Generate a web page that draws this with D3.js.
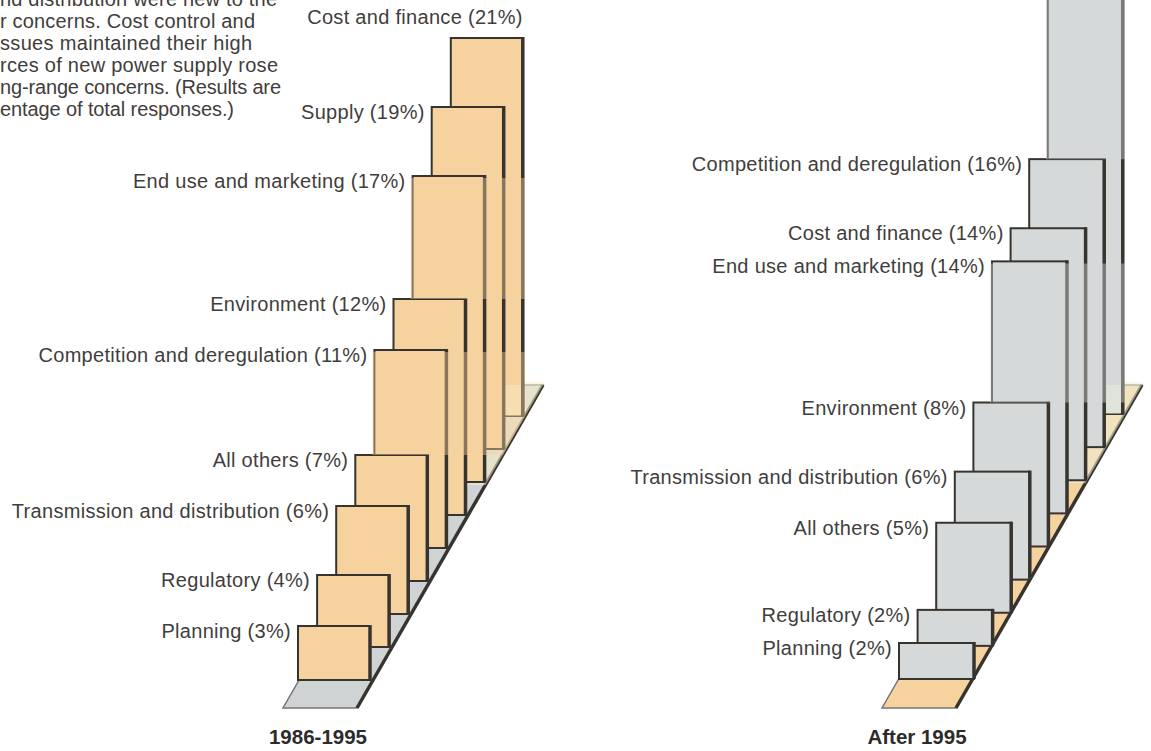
<!DOCTYPE html>
<html>
<head>
<meta charset="utf-8">
<title>Utility concerns</title>
<script src="https://d3js.org/d3.v7.min.js"></script>
<style>
  html, body { margin: 0; padding: 0; background: #fff; }
  svg { display: block; }
  text { font-family: "Liberation Sans", sans-serif; fill: #3f3e3c; }
  .label { font-size: 20px; letter-spacing: 0.3px; }
  .note { font-size: 20px; }
  .period { font-size: 20.5px; font-weight: bold; fill: #2c2b2a; }
</style>
</head>
<body>
<div id="chart"></div>
<script>
'use strict';

// front-to-back order of the bars in each stack
const categoriesEarly = ['Planning', 'Regulatory', 'Transmission and distribution', 'All others',
  'Competition and deregulation', 'Environment', 'End use and marketing', 'Supply', 'Cost and finance'];
const valuesEarly = [3, 4, 6, 7, 11, 12, 17, 19, 21];

const categoriesLate = ['Planning', 'Regulatory', 'All others', 'Transmission and distribution',
  'Environment', 'End use and marketing', 'Cost and finance', 'Competition and deregulation', 'Supply'];
const valuesLate = [2, 2, 5, 6, 8, 14, 14, 16, 33];

const noteLines = ['nd distribution were new to the', 'r concerns. Cost control and',
  'ssues maintained their high', 'rces of new power supply rose',
  'ng-range concerns. (Results are', 'entage of total responses.)'];

const width = 1151, height = 751;
const ink = '#37342f';

const svg = d3.select('#chart').append('svg').attr('width', width).attr('height', height);

// each line of the paragraph is fitted to its own measure
const noteWidths = [277, 255, 252, 278, 281, 234];
const noteY = d3.scaleLinear().domain([0, 5]).range([-1.5, 108.5]);
svg.selectAll('.note').data(noteLines).enter().append('text')
  .attr('class', 'note')
  .attr('x', 0)
  .attr('y', (d, i) => noteY(i))
  .attr('dy', '0.35em')
  .attr('textLength', (d, i) => noteWidths[i])
  .text(d => d);

drawStack({
  categories: categoriesEarly, values: valuesEarly, period: '1986-1995',
  frontX: 298, barStep: 19.1, barWidth: 72, pxPerUnit: 18, baseRange: [680, 416],
  barFill: '#f6d29f', floorFill: '#cfd3d4',
  floorX: 283, periodX: 318,
  fades: [[6, 5], [4, 3]], floorFade: '#f7eec6'
});

drawStack({
  categories: categoriesLate, values: valuesLate, period: 'After 1995',
  frontX: 899, barStep: 18.6, barWidth: 75, pxPerUnit: 18, baseRange: [679, 414],
  barFill: '#d6d9d9', floorFill: '#f6d29f',
  floorX: 882, periodX: 917,
  fades: [[8, 7], [5, 4]], floorFade: '#eef0d8'
});

function drawStack(p) {
  const g = svg.append('g');
  const n = p.categories.length;

  const x = d3.scaleLinear().domain([0, n - 1]).range([p.frontX, p.frontX + p.barStep * (n - 1)]);
  const base = d3.scaleLinear().domain([0, n - 1]).range(p.baseRange);
  const h = d3.scaleLinear().domain([0, 1]).range([0, p.pxPerUnit]);

  const top = i => base(i) - h(p.values[i]);

  // floor: a strip running back from the front edge to behind the last bar
  const floorBack = 385, floorFront = 708, floorW = 74;
  const floorShift = y => (floorFront - y) * 19 / 33;
  const floorRight = y => p.floorX + floorW + floorShift(y);
  const floorPoly = (y0, y1) => d3.line()([
    [p.floorX + floorShift(y0), y0], [floorRight(y0), y0],
    [floorRight(y1), y1], [p.floorX + floorShift(y1), y1]]) + 'Z';

  g.append('path')
    .attr('d', floorPoly(floorFront, floorBack))
    .attr('fill', p.floorFill)
    .attr('stroke', '#77757a')
    .attr('stroke-width', 1.5);
  g.append('line')
    .attr('x1', floorRight(floorFront)).attr('y1', floorFront)
    .attr('x2', floorRight(floorBack)).attr('y2', floorBack)
    .attr('stroke', ink).attr('stroke-width', 3.5);

  // the far end of the floor fades, bars still stand in front of it
  g.append('path')
    .attr('d', floorPoly(base(n - 3) + 3, floorBack - 3))
    .attr('fill', p.floorFade)
    .attr('opacity', 0.55);

  // back to front so nearer bars cover the ones behind
  const order = d3.range(n).reverse();
  const bars = g.selectAll('.bar').data(order).enter().append('g').attr('class', 'bar');

  bars.append('rect')
    .attr('x', i => x(i))
    .attr('y', i => top(i))
    .attr('width', p.barWidth)
    .attr('height', i => h(p.values[i]))
    .attr('fill', p.barFill)
    .attr('stroke', ink)
    .attr('stroke-width', 2);

  // the right hand edge is heavier, it reads as a shadow
  bars.append('line')
    .attr('x1', i => x(i) + p.barWidth)
    .attr('x2', i => x(i) + p.barWidth)
    .attr('y1', i => top(i) - 1)
    .attr('y2', i => base(i))
    .attr('stroke', ink)
    .attr('stroke-width', 3.5);

  // washed out bands where the outlines go pale, cut off along the floor edge
  p.fades.forEach(f => {
    const y0 = Math.max(top(f[0]) + 2, 0);
    const y1 = top(f[1]);
    const left = x(f[0]) - 2;
    const right = x(n - 1) + p.barWidth + 2;
    const pts = y1 > base(n - 1)
      ? [[left, y0], [right, y0], [right, base(n - 1)], [floorRight(y1), y1], [left, y1]]
      : [[left, y0], [right, y0], [right, y1], [left, y1]];
    g.append('path')
      .attr('d', d3.line()(pts) + 'Z')
      .attr('fill', p.barFill)
      .attr('opacity', 0.42);
  });

  // the pale patch carries on over the strip of the last bar
  g.append('rect')
    .attr('x', x(n - 2) + p.barWidth + 2)
    .attr('y', floorBack)
    .attr('width', x(n - 1) - x(n - 2) - 4)
    .attr('height', base(n - 1) - floorBack)
    .attr('fill', p.floorFade)
    .attr('opacity', 0.45);

  // labels sit against the top left corner of each bar; a low back bar takes its label above
  g.selectAll('.label').data(d3.range(n).filter(i => top(i) > 0)).enter().append('text')
    .attr('class', 'label')
    .attr('text-anchor', 'end')
    .attr('x', i => (top(i) < 60 ? x(i) + p.barWidth : x(i) - 7))
    .attr('y', i => (top(i) < 60 ? top(i) - 21 : top(i) + 5))
    .attr('dy', '0.35em')
    .text(i => `${p.categories[i]} (${p.values[i]}%)`);

  g.append('text')
    .attr('class', 'period')
    .attr('text-anchor', 'middle')
    .attr('x', p.periodX)
    .attr('y', 744)
    .text(p.period);
}
</script>
</body>
</html>
